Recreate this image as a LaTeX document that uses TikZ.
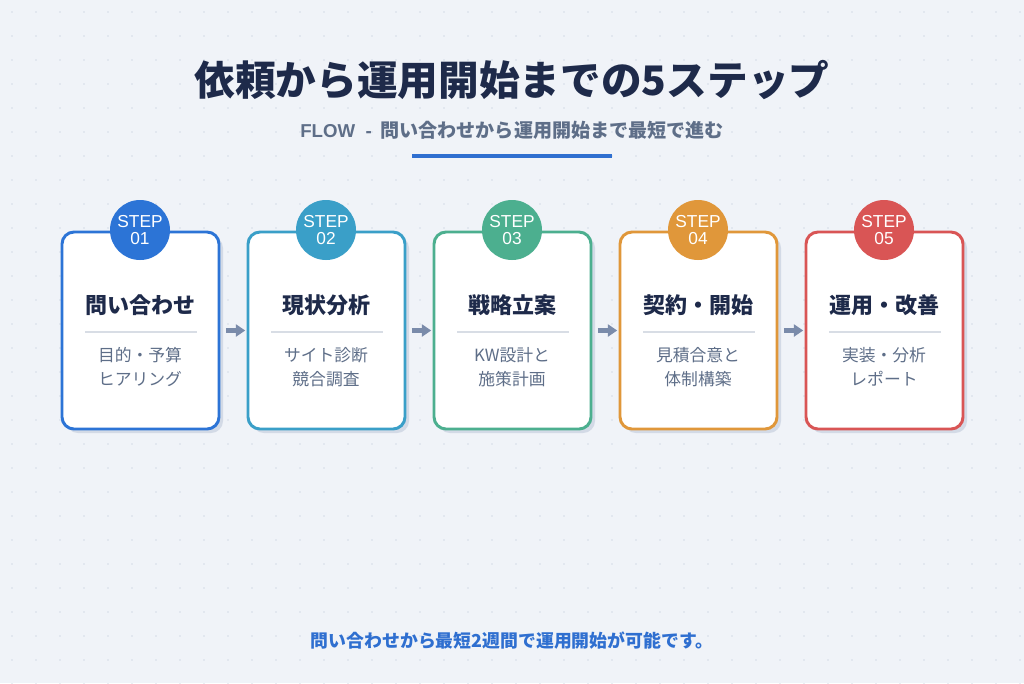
\documentclass[tikz,border=0pt]{standalone}
\usepackage{fontspec}
\usetikzlibrary{arrows.meta}
\setmainfont{Liberation Sans}
\newfontfamily\jp{Noto Sans CJK JP}
\definecolor{bgc}{HTML}{F0F3F8}
\definecolor{dotc}{HTML}{D5DCE6}
\definecolor{navy}{HTML}{1E2A4A}
\definecolor{subc}{HTML}{5E6E88}
\definecolor{accent}{HTML}{2F6FD0}
\definecolor{arrc}{HTML}{7A8BAA}
\definecolor{shd}{HTML}{D3DAE6}
\definecolor{sepc}{HTML}{D8DDE5}
\definecolor{cA}{HTML}{2C74D6}
\definecolor{cB}{HTML}{3A9FC8}
\definecolor{cC}{HTML}{4CAF8F}
\definecolor{cD}{HTML}{E0973A}
\definecolor{cE}{HTML}{D95555}
\tikzset{every picture/.style={line width=0.75pt}}
\tikzset{
  card/.style={draw=#1, line width=2.2pt, fill=white, rounded corners=9pt,
    minimum width=157*0.75pt, minimum height=197*0.75pt, inner sep=0pt},
  badge/.style={circle, fill=#1, minimum size=60*0.75pt, inner sep=0pt,
    text=white, font=\fontsize{13}{14}\selectfont, align=center},
  ctitle/.style={font=\jp\bfseries\fontsize{16.5}{18}\selectfont, text=navy},
  csub/.style={font=\jp\fontsize{12.6}{18}\selectfont, text=subc, align=center},
  flow/.style={-{Triangle[length=7pt,width=9pt]}, draw=arrc, line width=3.5pt}
}
\begin{document}
\begin{tikzpicture}[x=0.75pt,y=0.75pt,yscale=-1,xscale=1]
	\fill[bgc] (0,0) rectangle (1024,683);
	\useasboundingbox (0,0) rectangle (1024,683);
	% dotted grid
	\foreach \i in {0,...,42}{
		\foreach \j in {0,...,28}{
			\fill[dotc] (\i*24+12,\j*24+12) circle (0.9);
		}
	}
	% heading
	\node (title) at (512,80) [font=\jp\bfseries\fontsize{30.5}{32}\selectfont, text=navy] {依頼から運用開始までの5ステップ};
	\node (sub) at (512,130) [font=\jp\bfseries\fontsize{14.3}{16}\selectfont, text=subc] {{\rmfamily\bfseries\fontsize{14}{16}\selectfont FLOW\ \ -}\ \ 問い合わせから運用開始まで最短で進む};
	\draw[accent, line width=3pt] (412,156) -- (612,156);
	% cards
	\foreach \k/\c/\t/\s [count=\n] in {0/cA/問い合わせ/目的・予算\\ヒアリング, 1/cB/現状分析/サイト診断\\競合調査, 2/cC/戦略立案/KW設計と\\施策計画, 3/cD/契約・開始/見積合意と\\体制構築, 4/cE/運用・改善/実装・分析\\レポート}{
		\fill[shd, rounded corners=9pt] (\k*186+66,236) rectangle ++(157,197);
		\node (card\n) [card=\c] at (\k*186+140.5,330.5) {};
		\node (step\n) [badge=\c] at (\k*186+140,230) {STEP\\[-1pt]0\n};
		\node (head\n) [ctitle] at (\k*186+140,305) {\t};
		\draw[sepc, line width=1.5pt] (\k*186+85,332) -- (\k*186+197,332);
		\node (text\n) [csub] at (\k*186+140,367) {\s};
	}
	% connectors
	\foreach \a/\b in {1/2,2/3,3/4,4/5}{
		\draw[flow] ([xshift=4pt]card\a.east) -- ([xshift=-1pt]card\b.west);
	}
	% footer
	\node (foot) at (512,641) [font=\jp\bfseries\fontsize{13.4}{15}\selectfont, text=accent] {問い合わせから最短2週間で運用開始が可能です。};
\end{tikzpicture}
\end{document}
